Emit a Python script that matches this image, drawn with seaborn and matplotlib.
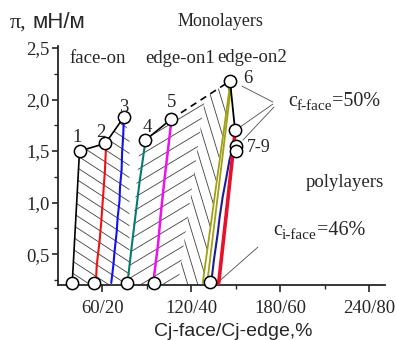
import numpy as np
import seaborn as sns
import matplotlib
matplotlib.use('Agg')
from matplotlib import pyplot as plt
from matplotlib.patches import Polygon

# isotherms, x on the Cj-face/Cj-edge scale, y = pi (mN/m)
iso1_x = [39.6, 40.3, 41.1, 42.6, 44.5]
iso1_y = [0.22, 0.40, 0.61, 1.00, 1.50]
iso2_x = [55.7, 56.1, 56.6, 58.0, 59.1, 60.6, 61.6, 62.3]
iso2_y = [0.27, 0.38, 0.45, 0.62, 0.80, 1.10, 1.30, 1.52]
iso3_x = [65.9, 67.4, 68.1, 69.6, 70.2, 71.5, 71.8, 72.9, 73.2, 74.0, 74.4]
iso3_y = [0.22, 0.40, 0.52, 0.72, 0.85, 1.02, 1.15, 1.32, 1.48, 1.66, 1.82]
iso4_x = [76.6, 77.5, 79.5, 82.7, 85.0, 87.0, 88.6]
iso4_y = [0.22, 0.30, 0.55, 0.93, 1.20, 1.40, 1.56]
iso5_x = [94.5, 94.9, 97.5, 99.6, 102.0, 104.5, 106.3]
iso5_y = [0.22, 0.30, 0.60, 0.93, 1.25, 1.55, 1.78]
iso6a_x = [127.6, 146.2]
iso6a_y = [0.22, 2.16]
iso6b_x = [130.6, 146.6]
iso6b_y = [0.22, 2.12]
iso7_x = [133.3, 135.2, 137.7, 139.0, 141.1, 143.6, 145.6, 147.4]
iso7_y = [0.22, 0.45, 0.70, 0.86, 1.06, 1.25, 1.41, 1.51]
iso8_x = [138.2, 143.2, 148.3, 149.3]
iso8_y = [0.20, 0.85, 1.53, 1.68]

# connecting lines between end points
conn1_x = [44.5, 62.0, 74.4]
conn1_y = [1.50, 1.575, 1.83]
conn2_x = [89.0, 106.3]
conn2_y = [1.607, 1.81]
dash_x = [106.3, 146.0]
dash_y = [1.81, 2.18]
conn3_x = [146.0, 149.4]
conn3_y = [2.18, 1.70]

# open circles
top_x = [44.5, 62.0, 74.4, 89.0, 106.3, 146.0, 149.4, 150.1, 149.7]
top_y = [1.50, 1.575, 1.83, 1.607, 1.81, 2.18, 1.70, 1.55, 1.50]
bot_x = [39.6, 54.1, 76.6, 94.5, 132.8]
bot_y = [0.22, 0.22, 0.22, 0.22, 0.23]

# hatched areas (outline vertices)
reg1_x = [39.6, 44.5, 62.0, 74.4, 78.2, 78.2]
reg1_y = [0.20, 1.50, 1.575, 1.83, 1.64, 0.20]
reg2_x = [77.2, 85.3, 89.0, 106.3, 129.1, 110.9]
reg2_y = [0.20, 1.58, 1.607, 1.81, 2.02, 0.20]
reg3_x = [110.9, 129.1, 146.0, 127.6]
reg3_y = [0.20, 2.02, 2.18, 0.20]

xticks = [60, 120, 180, 240]
xticklabels = ['60/20', '120/40', '180/60', '240/80']
yticks = [0.5, 1.0, 1.5, 2.0, 2.5]
yticklabels = ['0,5', '1,0', '1,5', '2,0', '2,5']

W, H = 396, 340
SERIF = ['Liberation Serif', 'DejaVu Serif']
SANS = ['Liberation Sans', 'DejaVu Sans']

sns.set_style('ticks')
plt.rcParams['font.family'] = SERIF

fig = plt.figure(figsize=(W / 100, H / 100), dpi=100)
ax = fig.add_axes([58 / W, 55 / H, 327 / W, 239 / H])


def hatch(xs, ys, slope, step):
  poly = Polygon(list(zip(xs, ys)), closed=True, fill=False, edgecolor='none')
  ax.add_patch(poly)
  c0 = min(ys) - slope * (max(xs) if slope > 0 else min(xs)) - step
  c1 = max(ys) - slope * (min(xs) if slope > 0 else max(xs)) + step
  for c in np.arange(c0, c1, step):
    ln, = ax.plot([0, 260], [c, slope * 260 + c], color='0.25', lw=0.6, zorder=1)
    ln.set_clip_path(poly)


hatch(reg1_x, reg1_y, -0.00936, 0.117)
hatch(reg2_x, reg2_y, 0.00864, 0.126)
hatch(reg3_x, reg3_y, -0.0475, 0.32)

lines = [
  (iso1_x, iso1_y, 'black', 1.2),
  (iso2_x, iso2_y, '#f01010', 1.5),
  (iso3_x, iso3_y, '#1010f0', 1.5),
  (iso4_x, iso4_y, '#087a70', 1.5),
  (iso5_x, iso5_y, '#f010f0', 1.8),
  (iso6a_x, iso6a_y, '#a0a018', 1.3),
  (iso6b_x, iso6b_y, '#a0a018', 1.3),
  (iso7_x, iso7_y, '#1c1c9a', 1.5),
  (iso8_x, iso8_y, '#e8102a', 2.6),
  (conn1_x, conn1_y, 'black', 1.2),
  (conn2_x, conn2_y, 'black', 1.2),
  (conn3_x, conn3_y, 'black', 1.3),
]
for xs, ys, col, lw in lines:
  sns.lineplot(x=xs, y=ys, sort=False, estimator=None, color=col, lw=lw, ax=ax, zorder=3)
sns.lineplot(x=dash_x, y=dash_y, sort=False, estimator=None, color='black', lw=1.2,
             linestyle=(0, (4, 3)), ax=ax, zorder=3)

# pointer lines for the labels
ax.plot([154.0, 174.9], [2.131, 1.976], color='0.3', lw=0.6)
ax.plot([152.7, 174.9], [1.733, 1.956], color='0.3', lw=0.6)
ax.plot([154.7, 175.6], [1.607, 1.927], color='0.3', lw=0.6)
ax.plot([137.2, 164.8], [0.218, 0.568], color='0.3', lw=0.6)

sns.scatterplot(x=top_x + bot_x, y=top_y + bot_y, s=78, facecolor='white',
                edgecolor='black', linewidth=1.1, ax=ax, zorder=5, clip_on=False)

ax.set_xlim(30, 250.5)
ax.set_ylim(0.2, 2.52)
ax.set_xticks(xticks)
ax.set_xticklabels(xticklabels)
ax.set_xticks([90, 150, 210], minor=True)
ax.set_yticks(yticks)
ax.set_yticklabels(yticklabels)
ax.set_yticks(np.arange(0.25, 2.5, 0.25), minor=True)
ax.tick_params(axis='both', which='major', labelsize=13.5, width=1.2, length=4, pad=2)
ax.tick_params(axis='x', which='major', length=5, pad=6)
ax.tick_params(axis='both', which='minor', width=1.0, length=3)
for side in ['top', 'right']:
  ax.spines[side].set_visible(False)
for side in ['left', 'bottom']:
  ax.spines[side].set_linewidth(1.3)
ax.set_xlabel('')
ax.set_ylabel('')


def ftext(x, y, s, **kw):
  return fig.text(x / W, 1 - y / H, s, **kw)


ftext(10, 28, 'π,', fontsize=16, va='baseline', family=SERIF)
ftext(33, 28, 'мН/м', fontsize=16, va='baseline', family=SANS)
ftext(233, 336, 'Cj-face/Cj-edge,%', fontsize=14, ha='center', va='baseline', family=SANS)
ftext(220, 26, 'Monolayers', fontsize=13, ha='center', va='baseline')
ftext(98, 63, 'face-on', fontsize=13.5, ha='center', va='baseline')
ftext(180, 63, 'edge-on1', fontsize=13.5, ha='center', va='baseline')
ftext(252, 62, 'edge-on2', fontsize=13.5, ha='center', va='baseline')
ftext(345, 187, 'polylayers', fontsize=13.5, ha='center', va='baseline')

for s, x, y in [('1', 77, 142), ('2', 101, 137), ('3', 124, 112), ('4', 147.5, 132),
                ('5', 172, 107)]:
  ftext(x, y, s, fontsize=13.5, ha='center', va='baseline')
ftext(243, 83, '6', fontsize=13.5, va='baseline')
ftext(247, 152, '7-9', fontsize=13, va='baseline')


def conc(x, y, sub, rest):
  t1 = ax.annotate('c', xy=(x, H - y), xycoords='figure pixels', fontsize=14.5,
                   ha='left', va='baseline', annotation_clip=False)
  t2 = ax.annotate(sub, xy=(1, 0), xycoords=t1, xytext=(0, -1.5),
                   textcoords='offset points', fontsize=11, ha='left', va='bottom')
  ax.annotate(rest, xy=(1, 0), xycoords=(t2, t1), fontsize=14.5, ha='left', va='bottom')


conc(288, 106, 'f-face', '=50%')
conc(273, 235, 'i-face', '=46%')

plt.savefig('out.png', dpi=100)
plt.close()
